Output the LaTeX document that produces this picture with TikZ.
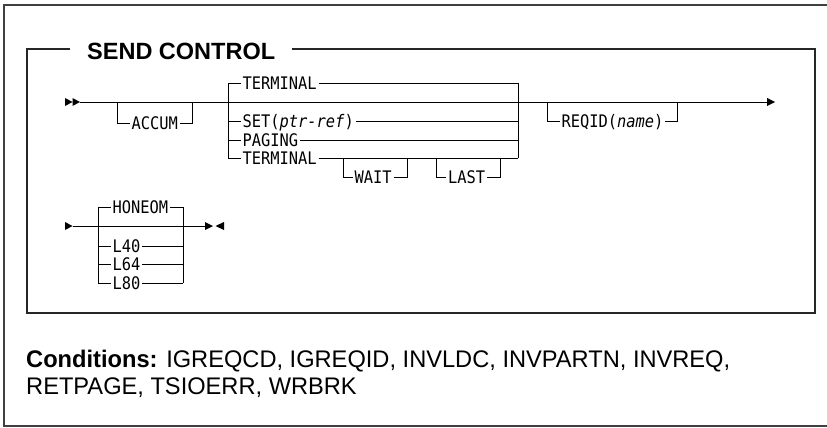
\documentclass[tikz,border=0pt]{standalone}
\usepackage{fontspec}
\setmainfont{Liberation Sans}
\newfontfamily\rsMono[FakeStretch=0.89]{DejaVu Sans Mono}
\newfontfamily\rsCond[FakeStretch=0.985]{Liberation Sans}
\newcommand\rsSyn{\rsMono\fontsize{17.3}{18}\selectfont}
\begin{document}
\begin{tikzpicture}[x=1pt,y=-1pt,
  syn/.style={font=\rsSyn, text height=12.6pt, text depth=0pt, inner sep=1.8pt, anchor=west},
  ln/.style={line width=0.9pt},
  frame/.style={line width=1.6pt, draw=black!85},
  tip/.style={fill=black}]
\useasboundingbox (0,0) rectangle (827,428);
% outer frame
\draw[frame, draw=black!75] (835,5) -- (4,5) -- (4,426) -- (835,426);
% inner frame with title
\node[font=\fontsize{23.5}{26}\selectfont\bfseries, anchor=west, inner sep=0pt, text height=16.8pt, text depth=0pt] (title) at (87,51) {SEND CONTROL};
\coordinate (tl) at (70,49);
\coordinate (tr) at (292,49);
\draw[frame] (tl) -- (27,49) -- (27,313) -- (815,313) -- (815,49) -- (tr);
% ---------- first diagram ----------
\fill[tip] (65,98) -- (72.5,102) -- (65,106) -- cycle;
\fill[tip] (72.5,98) -- (80,102) -- (72.5,106) -- cycle;
\coordinate (s1) at (80,102);
\coordinate (e1) at (767,102);
\draw[ln] (s1) -- (e1);
\fill[tip] (767,98) -- (775,102) -- (767,106) -- cycle;
% ACCUM
\node[syn] (accum) at (129.5,123) {ACCUM};
\draw[ln] (117,102) -- (117,123) -- (accum.west);
\draw[ln] (accum.east) -- (192,123) -- (192,102);
% choice block
\draw[ln] (228,83) -- (228,158);
\draw[ln] (518,83) -- (518,158);
\node[syn] (term1) at (240.5,83) {TERMINAL};
\node[syn] (set) at (240.5,121) {SET(\textit{ptr-ref})};
\node[syn] (paging) at (240.5,140) {PAGING};
\node[syn] (term2) at (240.5,158) {TERMINAL};
\draw[ln] (228,83) -- (term1.west);  \draw[ln] (term1.east) -- (518,83);
\draw[ln] (228,121) -- (set.west);   \draw[ln] (set.east) -- (518,121);
\draw[ln] (228,140) -- (paging.west);\draw[ln] (paging.east) -- (518,140);
\draw[ln] (228,158) -- (term2.west); \draw[ln] (term2.east) -- (518,158);
% WAIT / LAST
\node[syn] (wait) at (352.5,177) {WAIT};
\draw[ln] (343,158) -- (343,177) -- (wait.west);
\draw[ln] (wait.east) -- (407,177) -- (407,158);
\node[syn] (last) at (446,177) {LAST};
\draw[ln] (436,158) -- (436,177) -- (last.west);
\draw[ln] (last.east) -- (500,177) -- (500,158);
% REQID
\node[syn] (reqid) at (559.5,121) {REQID(\textit{name})};
\draw[ln] (547,102) -- (547,121) -- (reqid.west);
\draw[ln] (reqid.east) -- (677,121) -- (677,102);
% ---------- second diagram ----------
\fill[tip] (65,222) -- (72.5,226) -- (65,230) -- cycle;
\coordinate (s2) at (72.5,226);
\coordinate (e2) at (205,226);
\draw[ln] (s2) -- (e2);
\fill[tip] (205,222) -- (213,226) -- (205,230) -- cycle;
\fill[tip] (224,222) -- (215.5,226) -- (224,230) -- cycle;
\draw[ln] (98,207) -- (98,283);
\draw[ln] (183,207) -- (183,283);
\node[syn] (honeom) at (110.5,207) {HONEOM};
\node[syn] (l40) at (110.5,246) {L40};
\node[syn] (l64) at (110.5,264) {L64};
\node[syn] (l80) at (110.5,283) {L80};
\foreach \n/\y in {honeom/207,l40/246,l64/264,l80/283}{
  \draw[ln] (98,\y) -- (\n.west);
  \draw[ln] (\n.east) -- (183,\y);
}
% ---------- conditions ----------
\node[anchor=base west, inner sep=0pt, font=\rsCond\fontsize{24}{28}\selectfont] (cond1) at (26,367) {\textbf{Conditions:} IGREQCD, IGREQID, INVLDC, INVPARTN, INVREQ,};
\node[anchor=base west, inner sep=0pt, font=\rsCond\fontsize{24}{28}\selectfont] (cond2) at (26,394) {RETPAGE, TSIOERR, WRBRK};
\end{tikzpicture}
\end{document}
